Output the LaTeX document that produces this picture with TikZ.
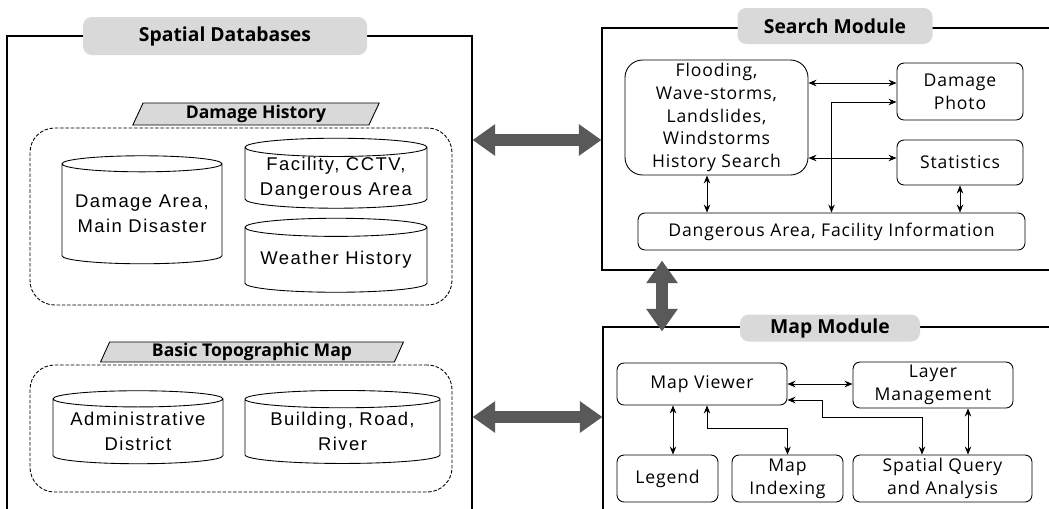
\documentclass[tikz,border=0pt]{standalone}
\usepackage{fontspec}
\setmainfont{Open Sans}
\newfontfamily\modfont[LetterSpace=5]{Open Sans}
\newfontfamily\cylfont[LetterSpace=8]{Liberation Sans}
\usetikzlibrary{arrows.meta, shapes.geometric}

\begin{document}
\begin{tikzpicture}[
    x=0.02cm, y=-0.02cm,
    wh/.style 2 args={minimum width=#1*0.02cm, minimum height=#2*0.02cm},
    frame/.style={draw, line width=0.6pt, inner sep=0pt},
    title/.style={fill=gray!30, rounded corners=5pt, inner sep=0pt, font=\fontsize{11}{13}\selectfont\bfseries},
    group/.style={draw, dash pattern=on 2pt off 1pt, rounded corners=14pt, line width=0.5pt, inner sep=0pt},
    tag/.style={draw, fill=gray!30, trapezium, trapezium left angle=70, trapezium right angle=110, trapezium stretches=true, inner sep=0pt, line width=0.5pt, font=\fontsize{10}{11}\selectfont\bfseries},
    db/.style={draw, cylinder, shape border rotate=90, aspect=0.12, inner sep=0pt, align=center, line width=0.5pt, font=\cylfont\fontsize{10.5}{14}\selectfont},
    box/.style={draw, rounded corners=4pt, inner sep=0pt, align=center, line width=0.5pt, font=\modfont\fontsize{10}{13}\selectfont},
    link/.style={<->, >={Stealth[length=1.6mm, width=1.3mm]}, line width=0.5pt},
    bigarrow/.style={{Triangle[length=0.45cm, width=0.6cm]}-{Triangle[length=0.45cm, width=0.6cm]}, line width=0.24cm, draw=black!65},
]
    \useasboundingbox (0,0) rectangle (1049,508);

    % Spatial databases
    \node[frame, wh={465}{484}] (sdb) at (239.5,278) {};
    \node[title, wh={284}{38}] (sdbtitle) at (225,36) {Spatial Databases};

    % Damage history group
    \node[group, wh={422}{177}] (dmg) at (241,216.5) {};
    \node[tag, wh={248}{22}] (dmgtag) at (256,114) {Damage History};
    \node[db, wh={160}{108}] (area) at (142,214) {Damage Area,\\Main Disaster};
    \node[db, wh={182}{70}] (facility) at (336,178) {Facility, CCTV,\\Dangerous Area};
    \node[db, wh={182}{74}] (weather) at (336,260) {Weather History};

    % Basic topographic map group
    \node[group, wh={422}{127}] (topo) at (241,428.5) {};
    \node[tag, wh={303}{20}] (topotag) at (252,352) {Basic Topographic Map};
    \node[db, wh={170}{73}] (admin) at (138,431.5) {Administrative\\District};
    \node[db, wh={195}{73}] (building) at (342.5,431.5) {Building, Road,\\River};

    % Search module
    \node[frame, wh={458}{242}] (search) at (831,149) {};
    \node[title, wh={195}{36}] (searchtitle) at (835,26) {Search Module};
    \node[box, rounded corners=10pt, wh={183}{115}] (flood) at (716.5,117.5) {Flooding,\\Wave-storms,\\Landslides,\\Windstorms\\History Search};
    \node[box, wh={126}{57}] (photo) at (960,91.5) {Damage\\Photo};
    \node[box, wh={126}{45}] (stats) at (960,162.5) {Statistics};
    \node[box, wh={387}{37}] (danger) at (831.5,231.5) {Dangerous Area, Facility Information};

    % Map module
    \node[frame, wh={457}{193}] (map) at (831.5,423.5) {};
    \node[title, wh={180}{27}] (maptitle) at (830,328) {Map Module};
    \node[box, wh={170}{42}] (viewer) at (702,384) {Map Viewer};
    \node[box, wh={160}{46}] (layer) at (933,385) {Layer\\Management};
    \node[box, wh={101}{47}] (legend) at (667.5,478.5) {Legend};
    \node[box, wh={111}{47}] (indexing) at (787.5,478.5) {Map\\Indexing};
    \node[box, wh={179}{47}] (query) at (942.5,478.5) {Spatial Query\\and Analysis};

    % helper coordinates
    \coordinate (s1) at (0,83);
    \coordinate (s2) at (0,102);
    \coordinate (s3) at (0,158);
    \coordinate (fx) at (707,0);
    \coordinate (lx) at (673,0);
    \coordinate (v2) at (707,428);
    \coordinate (q1) at (922,417);
    \coordinate (q2) at (822,400);
    \coordinate (mx) at (968,0);
    \coordinate (h1) at (0,140);
    \coordinate (h2) at (0,417);
    \coordinate (vx) at (662,0);

    % Search module links
    \draw[link] (flood.east |- s1) -- (photo.west |- s1);
    \draw[link] (flood.east |- s3) -- (stats.west |- s3);
    \draw[link] (danger.north) |- (photo.west |- s2);
    \draw[link] (flood.south -| fx) -- (danger.north -| fx);
    \draw[link] (stats.south) -- (danger.north -| stats.south);

    % Map module links
    \draw[link] (viewer.east) -- (layer.west |- viewer.east);
    \draw[link] (query.north -| q1) -- (q1) -| (q2) -- (viewer.east |- q2);
    \draw[link] (viewer.south -| lx) -- (legend.north -| lx);
    \draw[link] (viewer.south -| v2) -- (v2) -| (indexing.north);
    \draw[link] (layer.south -| mx) -- (query.north -| mx);

    % Big arrows between parts
    \draw[bigarrow] (sdb.east |- h1) -- (search.west |- h1);
    \draw[bigarrow] (sdb.east |- h2) -- (map.west |- h2);
    \draw[bigarrow, shorten <=-0.2cm, shorten >=-0.1cm] (search.south -| vx) -- (map.north -| vx);
\end{tikzpicture}
\end{document}
